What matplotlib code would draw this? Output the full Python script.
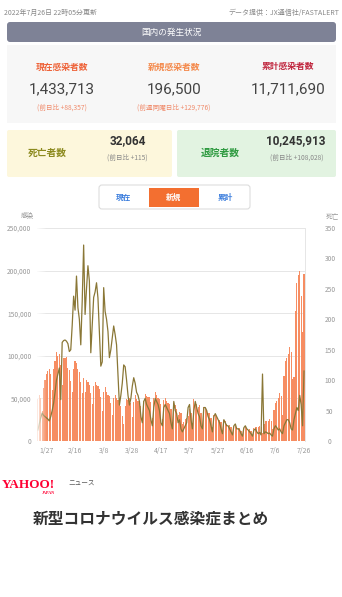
import matplotlib
matplotlib.use("Agg")
import matplotlib.pyplot as plt
from matplotlib.patches import FancyBboxPatch, Rectangle
import numpy as np
import pandas as pd

plt.rcParams['font.family'] = ['Noto Sans CJK JP', 'DejaVu Sans']

# Data: daily new cases (left axis) and deaths (right axis), 2022/1/21 - 7/26
dates = pd.date_range('2022-01-21', '2022-07-26', freq='D')

cases = [
    # Jan 21-31
    49854, 54576, 50420, 34987, 62613, 71633, 78930, 81825, 84936, 78707, 60000,
    # Feb
    85000, 94000, 104000, 100000, 102000, 89000, 66000, 98000, 98000, 99000,
    86000, 83000, 71000, 57000, 85000, 94000, 91000, 85000, 81000, 69000,
    56000, 74000, 58000, 72000, 69000, 66000, 56000, 43000,
    # Mar
    65000, 69000, 66000, 64000, 61000, 52000, 35000, 58000, 63000, 57000,
    54000, 53000, 45000, 30000, 51000, 54000, 51000, 48000, 46000, 41000,
    29000, 20000, 41000, 49000, 48000, 50000, 45000, 28000, 46000, 54000, 49000,
    # Apr
    47000, 47000, 41000, 25000, 47000, 55000, 53000, 52000, 52000, 46000,
    27000, 51000, 58000, 54000, 50000, 49000, 43000, 26000, 48000, 51000,
    47000, 45000, 44000, 38000, 22000, 45000, 42000, 37000, 30000, 34000,
    # May
    33000, 20000, 22000, 26000, 27000, 29000, 38000, 33000, 19000, 49000,
    44000, 43000, 40000, 42000, 33000, 19000, 40000, 39000, 35000, 33000,
    33000, 27000, 16000, 31000, 31000, 28000, 25000, 25000, 22000, 12000, 25000,
    # Jun
    24000, 20000, 18000, 19000, 16000, 8000, 18000, 18000, 16000, 15000,
    15000, 12000, 7000, 15000, 16000, 14000, 13000, 14000, 12000, 7000,
    15000, 17000, 17000, 17000, 18000, 17000, 9000, 20000, 23000, 23000,
    # Jul 1-26
    23000, 26000, 24000, 14000, 36000, 45000, 47000, 51000, 56000, 53000,
    31000, 76000, 94000, 97000, 102000, 110000, 105000, 73000, 75000, 152000,
    186000, 195000, 200000, 170000, 128000, 196500,
]

deaths = [
    # Jan 21-31
    18, 28, 38, 46, 42, 40, 38, 36, 33, 40, 50,
    # Feb
    62, 80, 100, 110, 120, 68, 162, 165, 166, 164,
    160, 147, 150, 190, 238, 215, 271, 219, 200, 158,
    230, 322, 208, 250, 288, 263, 145, 190,
    # Mar
    236, 245, 260, 235, 180, 123, 130, 252, 213, 200,
    180, 137, 150, 170, 189, 175, 158, 109, 59, 75,
    95, 125, 122, 100, 75, 59, 70, 90, 104, 95, 80,
    # Apr
    75, 65, 40, 30, 65, 70, 60, 55, 50, 35,
    25, 55, 70, 65, 60, 50, 30, 25, 55, 60,
    55, 50, 45, 30, 20, 65, 50, 45, 30, 35,
    # May
    20, 15, 20, 25, 30, 55, 60, 35, 20, 50,
    65, 55, 45, 40, 25, 20, 55, 55, 50, 40,
    35, 25, 15, 40, 45, 40, 35, 30, 20, 12, 35,
    # Jun
    30, 25, 25, 20, 15, 10, 25, 28, 20, 20,
    18, 12, 8, 22, 25, 20, 18, 15, 12, 8,
    18, 20, 15, 12, 14, 10, 110, 12, 15, 14,
    # Jul 1-26
    12, 13, 10, 8, 20, 25, 22, 18, 20, 15,
    12, 25, 30, 35, 35, 30, 20, 18, 35, 45,
    55, 50, 75, 60, 25, 115,
]

left_ticks = [0, 50000, 100000, 150000, 200000, 250000]
right_ticks = [0, 50, 100, 150, 200, 250, 300, 350]
xtick_labels = ['1/27', '2/16', '3/8', '3/28', '4/17', '5/7', '5/27', '6/16', '7/6', '7/26']

W, H = 342, 597
fig = plt.figure(figsize=(W / 100, H / 100), dpi=100)

# background layer in pixel coordinates
bg = fig.add_axes([0, 0, 1, 1])
bg.set_xlim(0, W)
bg.set_ylim(H, 0)
bg.axis('off')

def rbox(x0, y0, x1, y1, fc, ec='none', r=3, lw=0.8):
    bg.add_patch(FancyBboxPatch((x0, y0), x1 - x0, y1 - y0,
                                boxstyle=f"round,pad=0,rounding_size={r}",
                                fc=fc, ec=ec, lw=lw))

# header
bg.text(4, 13, '2022年7月26日 22時05分更新', fontsize=5, color='#888888', va='center')
bg.text(339, 13, 'データ提供：JX通信社/FASTALERT', fontsize=5, color='#888888',
        va='center', ha='right')
rbox(7, 22, 336, 42, '#7e8296')
bg.text(171, 32, '国内の発生状況', fontsize=6.2, color='white', ha='center', va='center')

# summary panel
bg.add_patch(Rectangle((7, 45), 329, 78, fc='#f7f7f7', ec='none'))
stats = [
    (62, '現在感染者数', '#ee6238', '1,433,713', '(前日比 +88,357)'),
    (174, '新規感染者数', '#f4894b', '196,500', '(前週同曜日比 +129,776)'),
    (288, '累計感染者数', '#c0263e', '11,711,690', None),
]
for x, label, col, num, sub in stats:
    bg.text(x, 67, label, fontsize=6.3, color=col, fontweight='bold', ha='center', va='center')
    bg.text(x, 89, num, fontsize=11, color='#444444', ha='center', va='center',
            family=['Roboto', 'DejaVu Sans'])
    if sub:
        bg.text(x, 108, sub, fontsize=4.8, color='#f08a6a', ha='center', va='center')

# deaths / recovered boxes
rbox(7, 130, 172, 177, '#fdf7dc', r=2)
rbox(177, 130, 336, 177, '#e2f3e1', r=2)
bg.text(47, 153, '死亡者数', fontsize=7, color='#8c8a1e', fontweight='bold', ha='center', va='center')
bg.text(128, 141, '32,064', fontsize=8.5, color='#333333', fontweight='bold', ha='center',
        va='center', family=['Roboto', 'DejaVu Sans'])
bg.text(127, 158, '(前日比 +115)', fontsize=4.8, color='#888888', ha='center', va='center')
bg.text(220, 153, '退院者数', fontsize=7, color='#2e9a40', fontweight='bold', ha='center', va='center')
bg.text(296, 141, '10,245,913', fontsize=8.5, color='#333333', fontweight='bold', ha='center',
        va='center', family=['Roboto', 'DejaVu Sans'])
bg.text(297, 158, '(前日比 +108,028)', fontsize=4.8, color='#888888', ha='center', va='center')

# toggle buttons
rbox(99, 185, 250, 209, 'white', ec='#dddddd', r=3)
bg.add_patch(Rectangle((149, 188), 50, 19, fc='#f36f30', ec='none'))
bg.text(124, 197.5, '現在', fontsize=5.5, color='#3b7ddd', fontweight='bold', ha='center', va='center')
bg.text(174, 197.5, '新規', fontsize=5.5, color='white', fontweight='bold', ha='center', va='center')
bg.text(225, 197.5, '累計', fontsize=5.5, color='#3b7ddd', fontweight='bold', ha='center', va='center')

bg.text(27, 216, '感染', fontsize=4.8, color='#999999', ha='center', va='center')
bg.text(332, 216, '死亡', fontsize=4.8, color='#999999', ha='center', va='center')

# chart
ax = fig.add_axes([37 / W, 1 - 441 / H, 268 / W, 213 / H])
ax.set_facecolor('none')
x = np.arange(len(dates))
ax.bar(x, cases, width=0.8, color='#f68d62', zorder=2)
ax.set_ylim(0, 250000)
ax.set_xlim(-0.6, len(dates) - 0.3)
for v in left_ticks[1:]:
    ax.axhline(v, color='#e6e6e6', lw=0.7, zorder=1)
ax.set_yticks(left_ticks)
ax.set_yticklabels([f'{v:,}' for v in left_ticks], fontsize=4.8, color='#999999')
tick_pos = [list(dates.strftime('%-m/%-d')).index(t) for t in xtick_labels]
ax.set_xticks(tick_pos)
ax.set_xticklabels(xtick_labels, fontsize=5, color='#999999')
ax.tick_params(length=0, pad=4)
ax.tick_params(axis='y', pad=4)
for s in ['top', 'left', 'bottom']:
    ax.spines[s].set_visible(False)
ax.spines['right'].set_color('#e6e6e6')
ax.spines['right'].set_linewidth(0.7)

ax2 = ax.twinx()
ax2.plot(x, deaths, color='#8a7736', lw=0.9, zorder=3)
ax2.set_ylim(0, 350)
ax2.set_yticks(right_ticks)
ax2.set_yticklabels([str(v) for v in right_ticks], fontsize=4.8, color='#999999', ha='center')
ax2.tick_params(length=0, pad=18)
for s in ax2.spines.values():
    s.set_visible(False)

# fade at the left edge of the chart
fade = np.ones((1, 50, 4))
fade[0, :, 3] = np.linspace(0.85, 0, 50)
ax2.imshow(fade, extent=(-0.6, 6, 0, 350), aspect='auto', zorder=5)
ax2.set_xlim(-0.6, len(dates) - 0.3)
ax2.set_ylim(0, 350)

# Yahoo! JAPAN news logo
bg.text(2, 485, 'YAHOO!', fontsize=9.5, color='#ff0033', fontweight='bold', va='center',
        family=['Liberation Serif', 'DejaVu Serif'])
bg.text(42, 493, 'JAPAN', fontsize=3, color='#ff0033', fontweight='bold', va='center',
        family=['Liberation Serif', 'DejaVu Serif'])
bg.text(68, 484, 'ニュース', fontsize=4.8, color='#555555', va='center')

bg.text(33, 519, '新型コロナウイルス感染症まとめ', fontsize=11.3, color='#333333',
        fontweight='bold', va='center')

fig.savefig('out.png', dpi=100)
